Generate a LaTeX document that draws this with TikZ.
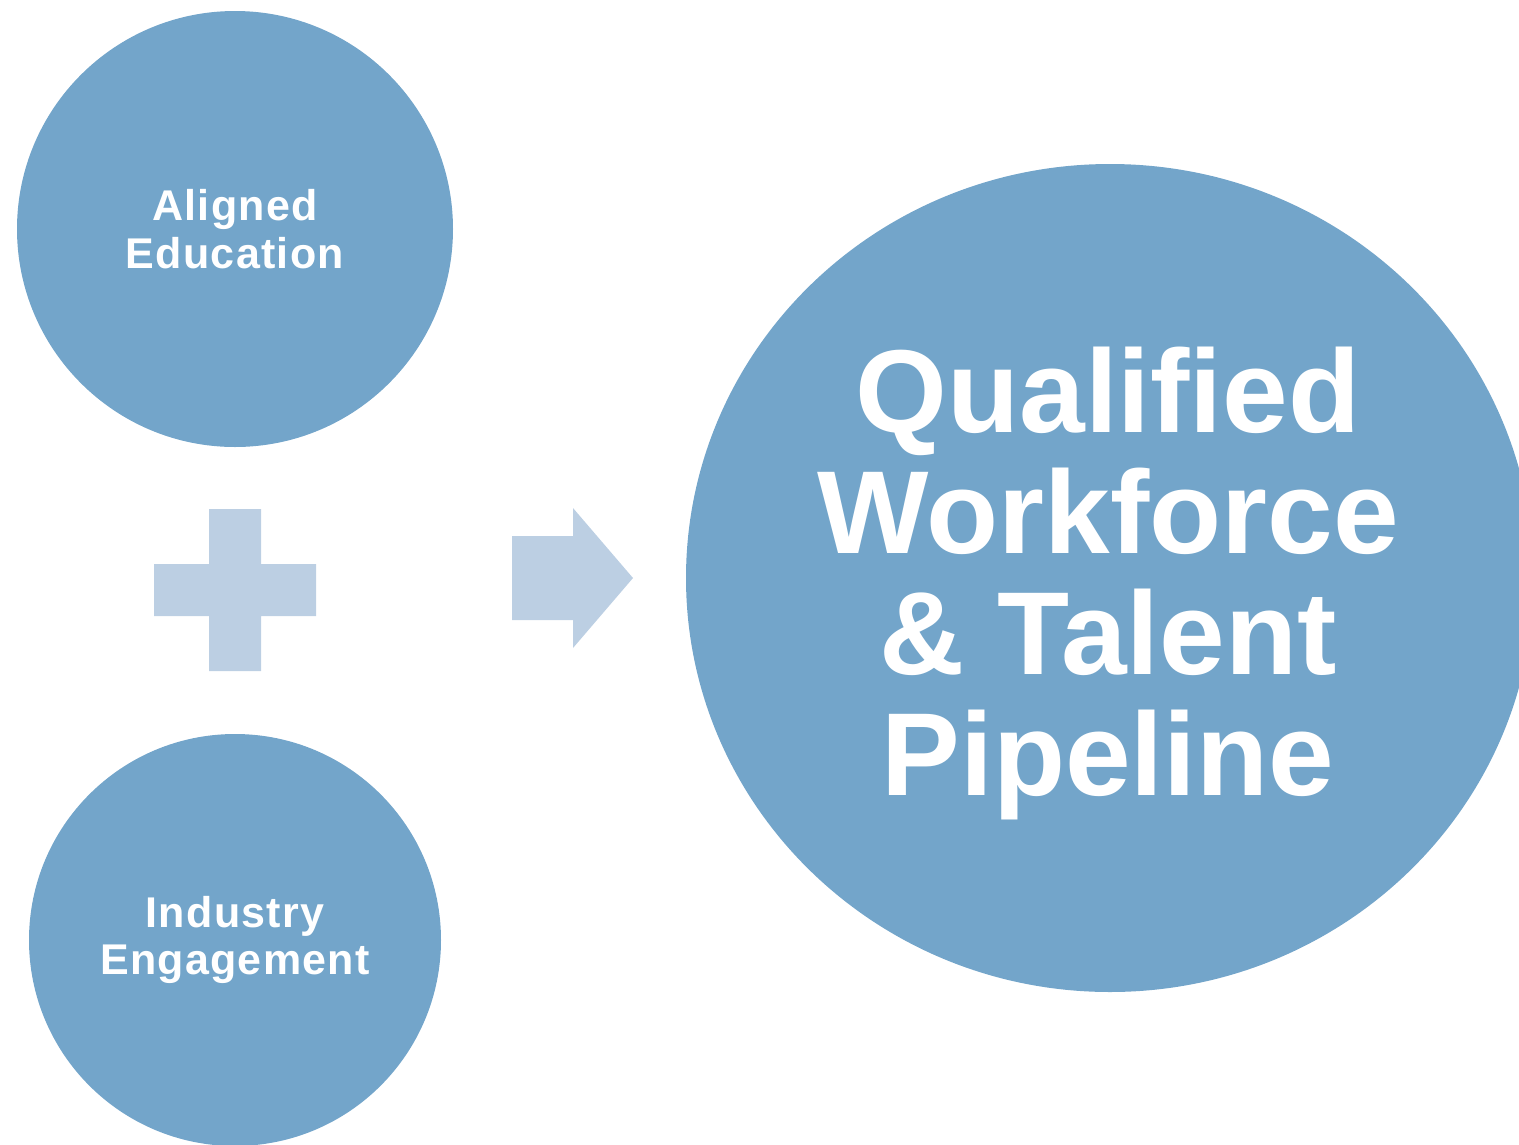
\documentclass[tikz,border=0pt]{standalone}
\usepackage{fontspec}
\setmainfont{Liberation Sans}
\usetikzlibrary{shapes.geometric, positioning}
\definecolor{bubbleblue}{RGB}{115, 165, 202}
\definecolor{signblue}{RGB}{188, 207, 227}

\tikzset{
    bubble/.style={
        circle,
        fill=bubbleblue,
        text=white,
        inner sep=0pt,
        align=center,
        font=\bfseries\fontsize{43}{47.5}\selectfont\addfontfeatures{LetterSpace=3}
    },
    signshape/.style={fill=signblue}
}

\begin{document}
\begin{tikzpicture}[x=1pt, y=-1pt]
    \useasboundingbox (0,0) rectangle (1519,1144);

    % the two inputs
    \node[bubble, minimum size=436pt] (education) at (235,229) {Aligned\\Education};
    \node[bubble, minimum size=412pt] (industry) at (235,940) {Industry\\Engagement};

    % plus sign between them
    \fill[signshape] (209,509) -- (261,509) -- (261,564) -- (316,564) -- (316,616)
        -- (261,616) -- (261,671) -- (209,671) -- (209,616) -- (154,616)
        -- (154,564) -- (209,564) -- cycle;

    % arrow to the result
    \fill[signshape] (512,536) -- (573,536) -- (573,508) -- (633,578)
        -- (573,648) -- (573,620) -- (512,620) -- cycle;

    % the result
    \node[
        ellipse,
        fill=bubbleblue,
        inner sep=0pt,
        minimum width=848pt,
        minimum height=828pt
    ] (pipeline) at (1110,578) {};
    \node[
        text=white,
        align=center,
        font=\bfseries\fontsize{118}{121}\selectfont
    ] (pipelinetext) at (1108,583) {Qualified\\Workforce\\\& Talent\\Pipeline};
\end{tikzpicture}
\end{document}
